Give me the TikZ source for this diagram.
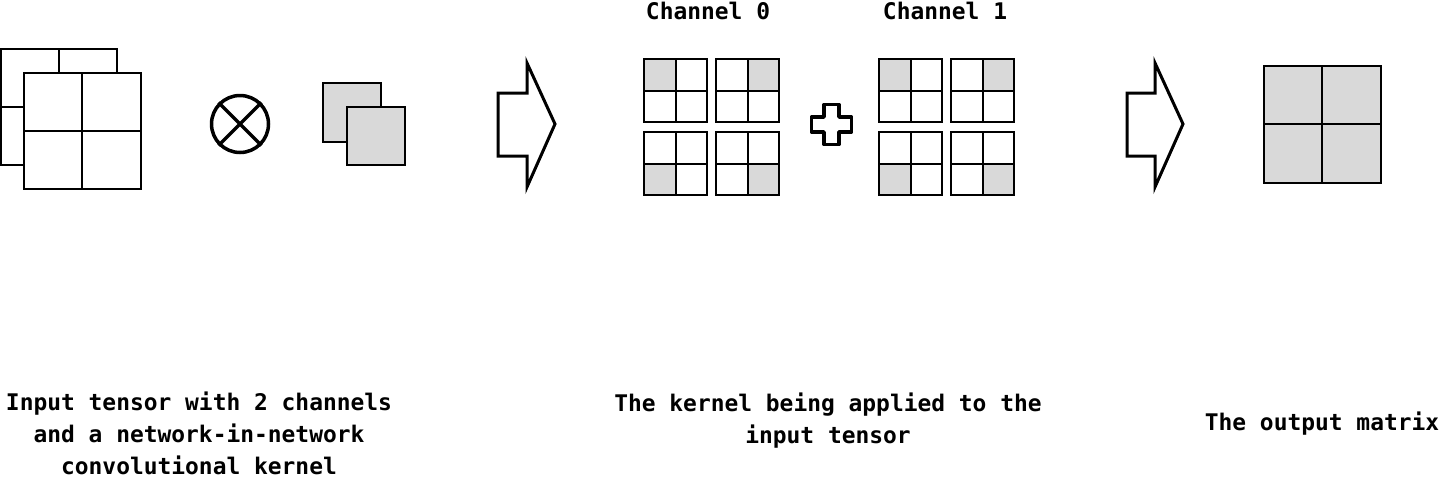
\documentclass[tikz,border=0pt]{standalone}
\usepackage{fontspec}
\setmonofont{DejaVu Sans Mono}
\definecolor{kgray}{RGB}{217,217,217}
\tikzset{
  gridline/.style={draw=black,line width=2pt},
  bigarrow/.style={draw=black,line width=3pt,line join=miter,fill=white},
  lbl/.style={font=\ttfamily\bfseries\fontsize{22.9}{32}\selectfont,align=center,inner sep=0pt,anchor=base},
  pics/sgrid/.style={code={
    \fill[kgray] (#1) rectangle ++(31.5,31.5);
    \draw[gridline] (0,0) rectangle (63,63) (31.5,0) -- (31.5,63) (0,31.5) -- (63,31.5);
  }},
}
\begin{document}
\begin{tikzpicture}[x=1pt,y=-1pt]
\useasboundingbox (0,0) rectangle (1440,477);
% input tensor
\draw[gridline,fill=white] (1,49) rectangle (117,165) (59,49) -- (59,165) (1,107) -- (117,107);
\draw[gridline,fill=white] (24,73) rectangle (141,189) (82,73) -- (82,189) (24,131) -- (141,131);
% otimes
\node[circle,draw,line width=3.5pt,minimum size=57pt,inner sep=0pt] (otimes) at (240,124) {};
\draw[line width=3.5pt] (otimes.north west) -- (otimes.south east) (otimes.north east) -- (otimes.south west);
% kernel
\draw[gridline,fill=kgray] (323,83) rectangle (381,142);
\draw[gridline,fill=kgray] (347,107) rectangle (405,165);
% arrow 1
\draw[bigarrow] (498,93) -- (527,93) -- (527,63) -- (555,124) -- (527,187) -- (527,156) -- (498,156) -- cycle;
% channel 0
\pic at (644,59) {sgrid={0,0}};
\pic at (716,59) {sgrid={31.5,0}};
\pic at (644,132) {sgrid={0,31.5}};
\pic at (716,132) {sgrid={31.5,31.5}};
% plus
\draw[line width=3.5pt,line join=round] (824,104.5) -- (839,104.5) -- (839,117) -- (851.5,117) -- (851.5,132) -- (839,132) -- (839,144.5) -- (824,144.5) -- (824,132) -- (811.5,132) -- (811.5,117) -- (824,117) -- cycle;
% channel 1
\pic at (879,59) {sgrid={0,0}};
\pic at (951,59) {sgrid={31.5,0}};
\pic at (879,132) {sgrid={0,31.5}};
\pic at (951,132) {sgrid={31.5,31.5}};
% arrow 2
\draw[bigarrow] (1127,93) -- (1155,93) -- (1155,63) -- (1183,124) -- (1155,187) -- (1155,156) -- (1127,156) -- cycle;
% output
\draw[gridline,fill=kgray] (1264,66) rectangle (1381,183) (1322,66) -- (1322,183) (1264,124) -- (1381,124);
% labels
\node[lbl] (ch0) at (708,19) {Channel 0};
\node[lbl] (ch1) at (945,19) {Channel 1};
\node[lbl] (tin) at (199,474) {Input tensor with 2 channels\\and a network-in-network\\convolutional kernel};
\node[lbl] (tker) at (828,443) {The kernel being applied to the\\input tensor};
\node[lbl] (tout) at (1322,430) {The output matrix};
\end{tikzpicture}
\end{document}
